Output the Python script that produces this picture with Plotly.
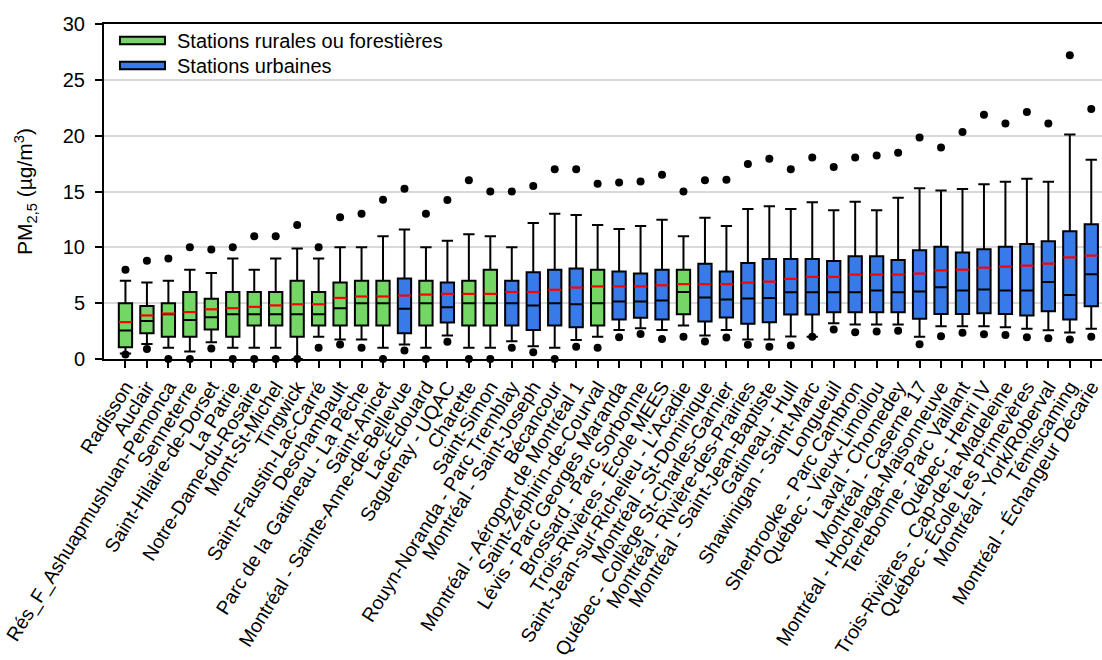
import plotly.graph_objects as go

# Stations, ordered by mean PM2.5
stations = [
    "Radisson", "Auclair", "Rés_F_Ashuapmushuan-Pemonca", "Senneterre",
    "Saint-Hilaire-de-Dorset", "La Patrie", "Notre-Dame-du-Rosaire",
    "Mont-St-Michel", "Tingwick", "Saint-Faustin-Lac-Carré", "Deschambault",
    "Parc de la Gatineau - La Pêche", "Saint-Anicet",
    "Montréal - Sainte-Anne-de-Bellevue", "Lac-Édouard", "Saguenay - UQAC",
    "Charette", "Saint-Simon", "Rouyn-Noranda - Parc Tremblay",
    "Montréal - Saint-Joseph", "Bécancour", "Montréal - Aéroport de Montréal 1",
    "Saint-Zéphirin-de-Courval", "Lévis - Parc Georges Maranda",
    "Brossard - Parc Sorbonne", "Trois-Rivières - École MEES",
    "Saint-Jean-sur-Richelieu - L'Acadie", "Montréal - St-Dominique",
    "Québec - Collège St-Charles-Garnier", "Montréal - Rivière-des-Prairies",
    "Montréal - Saint-Jean-Baptiste", "Gatineau - Hull",
    "Shawinigan - Saint-Marc", "Longueuil", "Sherbrooke - Parc Cambron",
    "Québec - Vieux-Limoilou", "Laval - Chomedey", "Montréal - Caserne 17",
    "Montréal - Hochelaga-Maisonneuve", "Terrebonne - Parc Vaillant",
    "Québec - Henri IV", "Trois-Rivières - Cap-de-la-Madeleine",
    "Québec - École Les Primevères", "Montréal - York/Roberval",
    "Témiscaming", "Montréal - Échangeur Décarie",
]

# R = rurale ou forestière, U = urbaine
station_type = [
    "R", "R", "R", "R", "R", "R", "R", "R", "R", "R", "R", "R", "R",
    "U", "R", "U", "R", "R", "U", "U", "U", "U", "R", "U", "U", "U",
    "R", "U", "U", "U", "U", "U", "U", "U", "U", "U", "U", "U", "U",
    "U", "U", "U", "U", "U", "U", "U",
]

whisker_low = [0.5, 1.35, 1.0, 0.67, 1.5, 1.0, 1.0, 1.0, 0.0, 2.0, 1.75, 1.75, 1.0,
               1.3, 1.0, 2.1, 1.0, 1.0, 1.6, 1.15, 1.0, 1.7, 2.0, 2.6, 2.76, 2.6,
               3.0, 2.1, 2.6, 1.75, 1.75, 2.01, 2.0, 3.2, 3.09, 3.09, 3.09, 2.0,
               2.93, 2.93, 2.93, 2.84, 2.7, 2.58, 2.37, 2.7]
q1 = [1.05, 2.3, 2.0, 2.0, 2.65, 2.0, 3.0, 3.0, 2.0, 3.0, 3.0, 3.0, 3.0,
      2.3, 3.0, 3.27, 3.0, 3.0, 3.0, 2.6, 3.0, 2.85, 3.0, 3.53, 3.7, 3.53,
      4.0, 3.35, 3.71, 3.15, 3.29, 3.98, 3.98, 4.19, 4.19, 4.19, 4.19, 3.6,
      4.04, 4.04, 4.1, 4.04, 3.89, 4.28, 3.53, 4.73]
median = [2.55, 3.4, 4.0, 3.5, 3.75, 4.0, 4.0, 4.0, 4.0, 4.0, 4.55, 5.0, 5.0,
          4.5, 5.0, 4.63, 5.0, 5.0, 5.0, 4.8, 5.0, 4.9, 5.0, 5.14, 5.14, 5.23,
          6.0, 5.5, 5.32, 5.41, 5.47, 5.98, 5.98, 5.98, 5.98, 6.13, 5.98, 6.04,
          6.42, 6.13, 6.22, 6.13, 6.13, 6.9, 5.74, 7.59]
mean = [3.3, 3.9, 4.07, 4.2, 4.45, 4.55, 4.67, 4.8, 4.9, 4.9, 5.47, 5.6, 5.6,
        5.68, 5.77, 5.83, 5.83, 5.83, 6.0, 6.0, 6.2, 6.4, 6.5, 6.5, 6.5, 6.6,
        6.7, 6.7, 6.7, 6.84, 6.93, 7.17, 7.35, 7.35, 7.56, 7.56, 7.56, 7.65,
        7.94, 8.0, 8.18, 8.27, 8.36, 8.54, 9.1, 9.26]
q3 = [5.0, 4.75, 5.0, 6.0, 5.4, 6.0, 6.0, 6.0, 7.0, 6.0, 6.85, 7.0, 7.0,
      7.2, 7.0, 6.85, 7.0, 8.0, 7.0, 7.77, 8.0, 8.1, 8.0, 7.83, 7.65, 8.0,
      8.0, 8.54, 7.83, 8.6, 8.96, 8.96, 8.96, 8.78, 9.2, 9.2, 8.87, 9.73,
      10.06, 9.53, 9.82, 10.06, 10.3, 10.54, 11.43, 12.06]
whisker_high = [7.0, 6.85, 7.0, 8.0, 7.7, 9.0, 8.0, 9.0, 9.9, 9.0, 10.0, 10.0, 11.0,
                11.6, 10.0, 10.6, 11.17, 11.0, 10.0, 12.18, 13.0, 12.9, 12.0, 11.65,
                11.9, 12.48, 11.0, 12.65, 11.9, 13.43, 13.67, 13.43, 14.03, 13.31,
                14.09, 13.31, 14.45, 15.28, 15.1, 15.22, 15.64, 15.88, 16.14, 15.88,
                20.1, 17.84]
minimum = [0.4, 0.9, 0.0, 0.0, 0.95, 0.0, 0.0, 0.0, 0.0, 1.0, 1.3, 1.0, 0.0,
           0.76, 0.0, 1.54, 0.0, 0.0, 1.0, 0.6, 0.0, 1.1, 1.0, 1.95, 2.25, 1.8,
           2.0, 1.57, 1.92, 1.27, 1.09, 1.2, 2.0, 2.64, 2.4, 2.46, 2.52, 1.33,
           2.04, 2.34, 2.22, 2.16, 1.95, 1.86, 1.74, 1.99]
maximum = [8.0, 8.8, 9.0, 10.0, 9.8, 10.0, 11.0, 11.0, 12.0, 10.0, 12.7, 13.0, 14.27,
           15.25, 13.0, 14.25, 16.0, 15.0, 15.0, 15.5, 17.0, 17.0, 15.7, 15.8, 15.9,
           16.5, 15.0, 16.0, 16.05, 17.46, 17.93, 17.0, 18.05, 17.19, 18.05, 18.23,
           18.47, 19.84, 18.95, 20.32, 21.87, 21.1, 22.11, 21.1, 27.2, 22.38]

GREEN = "#74D665"
BLUE = "#377AE8"
FONT = "Liberation Sans, Arial, sans-serif"

positions = list(range(len(stations)))

fig = go.Figure()

for kind, color, name in [("R", GREEN, "Stations rurales ou forestières"),
                          ("U", BLUE, "Stations urbaines")]:
    idx = [i for i in positions if station_type[i] == kind]
    fig.add_trace(go.Box(
        name=name,
        x=idx,
        q1=[q1[i] for i in idx],
        median=[median[i] for i in idx],
        q3=[q3[i] for i in idx],
        lowerfence=[whisker_low[i] for i in idx],
        upperfence=[whisker_high[i] for i in idx],
        fillcolor=color,
        line=dict(color="black", width=2),
        width=0.62,
        whiskerwidth=0.85,
        boxpoints=False,
        showlegend=False,
    ))

# Mean as a short red bar across each box
fig.add_trace(go.Scatter(
    x=positions, y=mean, mode="markers",
    marker=dict(symbol="line-ew", size=9.2, color="red",
                line=dict(color="red", width=2.2)),
    showlegend=False, cliponaxis=False,
))

# Minimum and maximum as black dots
fig.add_trace(go.Scatter(
    x=positions + positions, y=minimum + maximum, mode="markers",
    marker=dict(symbol="circle", size=8, color="black"),
    showlegend=False, cliponaxis=False,
))

# Legend drawn as swatches and labels
legend_rows = [(GREEN, "Stations rurales ou forestières", 0.9394, 0.962, 0.9507),
               (BLUE, "Stations urbaines", 0.8648, 0.8875, 0.8761)]
shapes = []
annotations = []
for color, label, y0, y1, yt in legend_rows:
    shapes.append(dict(type="rect", xref="paper", yref="paper",
                       x0=0.016, x1=0.0611, y0=y0, y1=y1,
                       fillcolor=color, line=dict(color="black", width=2)))
    annotations.append(dict(xref="paper", yref="paper", x=0.0711, y=yt,
                            xanchor="left", yanchor="middle", text=label,
                            showarrow=False,
                            font=dict(family=FONT, size=20, color="black")))

fig.update_layout(
    width=1102, height=660,
    margin=dict(l=104, r=0, t=24, b=301),
    plot_bgcolor="white", paper_bgcolor="white",
    boxmode="overlay",
    font=dict(family=FONT, size=20, color="black"),
    shapes=shapes, annotations=annotations,
    xaxis=dict(
        range=[-1, 45.5],
        tickmode="array", tickvals=positions, ticktext=stations,
        tickangle=-58,
        ticks="outside", ticklen=7, tickwidth=2, tickcolor="black",
        showline=True, linecolor="black", linewidth=2, mirror=True,
        showgrid=False, zeroline=False, automargin=False,
        ticklabeloverflow="allow",
        tickfont=dict(family=FONT, size=19.4, color="black"),
    ),
    yaxis=dict(
        range=[0, 30], tick0=0, dtick=5,
        ticks="outside", ticklen=7, tickwidth=2, tickcolor="black",
        showline=True, linecolor="black", linewidth=2,
        showgrid=True, gridcolor="#d9d9d9", gridwidth=1.5,
        zeroline=False, automargin=False,
        ticklabelstandoff=6,
        tickfont=dict(family=FONT, size=20, color="black"),
        title=dict(text="PM<sub>2,5</sub> (µg/m<sup>3</sup>)",
                   font=dict(family=FONT, size=21, color="black"),
                   standoff=24),
    ),
)

fig.write_html("out.html")
